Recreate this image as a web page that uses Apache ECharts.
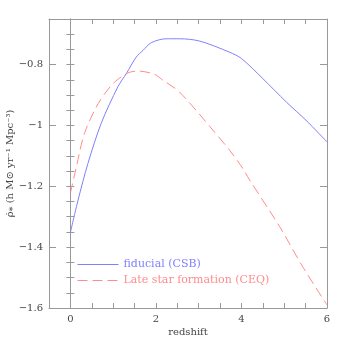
<!DOCTYPE html>
<html>
<head>
<meta charset="utf-8">
<script src="https://cdn.jsdelivr.net/npm/echarts@6/dist/echarts.min.js"></script>
<style>
  html, body { margin: 0; padding: 0; background: #fff; }
  #chart { width: 346px; height: 346px; }
</style>
</head>
<body>
<div id="chart"></div>
<script>
// star formation rate density vs redshift, two models
const fiducialZ = [0, 0.18, 0.41, 0.72, 1.11, 1.31, 1.54, 1.70, 1.89, 2.24, 2.55, 3.02, 3.72, 4.0, 4.5, 5.05, 5.51, 6.0];
const fiducialRho = [-1.352, -1.245, -1.125, -0.993, -0.873, -0.829, -0.775, -0.753, -0.728, -0.715, -0.715, -0.7225, -0.759, -0.78, -0.846, -0.923, -0.983, -1.054];
const lateZ = [0, 0.14, 0.33, 0.65, 1.0, 1.35, 1.58, 1.97, 2.16, 2.55, 3.33, 3.72, 4.03, 4.19, 4.89, 5.43, 6.0];
const lateRho = [-1.223, -1.136, -1.026, -0.928, -0.862, -0.827, -0.821, -0.832, -0.851, -0.89, -1.015, -1.081, -1.141, -1.179, -1.332, -1.464, -1.59];
const xLabels = [0, 2, 4, 6];
const yMajor = [-1.6, -1.4, -1.2, -1, -0.8];

const seriesNames = ['fiducial (CSB)', 'Late star formation (CEQ)'];
const blue = '#8080ff';
const red = '#ff8c8c';
const frame = '#999';
const font = '"DejaVu Serif", "Liberation Serif", serif';

function zip(xs, ys) {
  return xs.map(function (x, i) { return [x, ys[i]]; });
}
function fmt(v) {
  return String(Math.round(v * 100) / 100).replace('-', '\u2212');
}

const yBase = { type: 'value', min: -1.6, max: -0.65, splitLine: { show: false },
  axisLine: { show: true, lineStyle: { color: frame } } };
const xBase = { type: 'value', min: -0.5, max: 6, interval: 0.5, splitLine: { show: false },
  axisLine: { show: true, lineStyle: { color: frame } } };

const chart = echarts.init(document.getElementById('chart'), null, { renderer: 'canvas' });
chart.setOption({
  animation: false,
  backgroundColor: '#fff',
  textStyle: { fontFamily: font },
  grid: { left: 49, right: 19, top: 19, bottom: 38, containLabel: false, outerBoundsMode: 'none' },
  xAxis: [
    Object.assign({}, xBase, {
      position: 'bottom',
      name: 'redshift', nameLocation: 'middle', nameGap: 19, nameMoveOverlap: false,
      nameTextStyle: { color: '#444', fontSize: 10, fontFamily: font },
      axisTick: { inside: true, length: 5, lineStyle: { color: frame } },
      axisLabel: { color: '#444', fontSize: 10, fontFamily: font, margin: 6,
        customValues: xLabels, formatter: fmt }
    }),
    Object.assign({}, xBase, {
      position: 'top',
      axisTick: { inside: true, length: 5, lineStyle: { color: frame } },
      axisLabel: { show: false }
    })
  ],
  yAxis: [
    Object.assign({}, yBase, {
      position: 'left', interval: 0.05,
      axisTick: { inside: true, length: 4, lineStyle: { color: frame } },
      axisLabel: { show: false }
    }),
    Object.assign({}, yBase, {
      position: 'right', interval: 0.05,
      axisTick: { inside: true, length: 4, lineStyle: { color: frame } },
      axisLabel: { show: false }
    }),
    Object.assign({}, yBase, {
      position: 'left', interval: 0.2,
      name: '\u03C1\u0307\u204E (h M\u2299 yr\u207B\u00B9 Mpc\u207B\u00B3)',
      nameLocation: 'middle', nameGap: 34, nameMoveOverlap: false,
      nameTextStyle: { color: '#444', fontSize: 10, fontFamily: font },
      axisTick: { inside: true, length: 7, customValues: yMajor, lineStyle: { color: frame } },
      axisLabel: { color: '#444', fontSize: 10, fontFamily: font, margin: 6,
        customValues: yMajor, formatter: fmt }
    }),
    Object.assign({}, yBase, {
      position: 'right', interval: 0.2,
      axisTick: { inside: true, length: 7, customValues: yMajor, lineStyle: { color: frame } },
      axisLabel: { show: false }
    })
  ],
  legend: {
    orient: 'vertical', left: 77, top: 259, padding: 0,
    itemWidth: 41, itemHeight: 10, itemGap: 5,
    itemStyle: { opacity: 0 },
    lineStyle: { width: 1 },
    textStyle: { fontSize: 11, lineHeight: 10, fontFamily: font },
    data: [
      { name: seriesNames[0], textStyle: { color: blue } },
      { name: seriesNames[1], textStyle: { color: red } }
    ]
  },
  series: [
    { name: seriesNames[0], type: 'line', smooth: 0.3, showSymbol: false, symbol: 'none',
      xAxisIndex: 0, yAxisIndex: 0,
      lineStyle: { color: blue, width: 1 }, itemStyle: { color: blue },
      data: zip(fiducialZ, fiducialRho) },
    { name: seriesNames[1], type: 'line', smooth: 0.3, showSymbol: false, symbol: 'none',
      xAxisIndex: 0, yAxisIndex: 0,
      lineStyle: { color: red, width: 1, type: [10, 5] }, itemStyle: { color: red },
      data: zip(lateZ, lateRho) }
  ]
});
</script>
</body>
</html>
